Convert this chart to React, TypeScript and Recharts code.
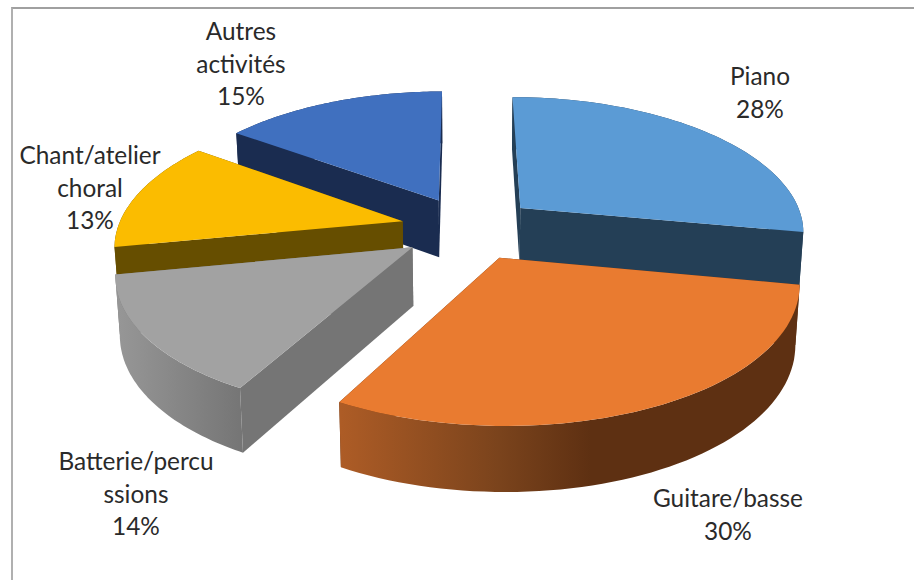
import React from "react";
import { PieChart, Pie } from "recharts";

const categories = ["Piano", "Autres activités", "Chant/atelier choral", "Batterie/percussions", "Guitare/basse"];
const shares = [28, 15, 13, 14, 30];
const labelLines = [["Piano"], ["Autres", "activités"], ["Chant/atelier", "choral"], ["Batterie/percu", "ssions"], ["Guitare/basse"]];
const topColours = ["#5b9bd5", "#4070bf", "#fbbc00", "#a2a2a2", "#e97b30"];
const wallColours = ["#243f56", "#1a2c50", "#664e00", "#757575", "#5e3012"];
const sideStops: [number, string][][] = [
  [[0, "#243f56"], [1, "#243f56"]],
  [[0, "#1a2c50"], [1, "#1a2c50"]],
  [[0, "#664e00"], [1, "#664e00"]],
  [[0, "#969696"], [1, "#757575"]],
  [[0, "#ad5c26"], [0.35, "#7a431c"], [0.55, "#5e3012"], [1, "#5e3012"]],
];
// centre x, first baseline y for each label block
const labelAnchors = [[760, 85], [241, 40], [90, 164], [136, 470], [728, 507]];

const chartData = categories.map((name, i) => ({ name, value: shares[i], fill: topColours[i] }));

const CX = 469;
const CY = 228;
const TILT = 133 / 285;
const PERSP_X = 0.16;
const PERSP_Y = 0.15;
const PERSP_D = 0.1;
const EXPLODE = 0.24;
const DEPTH = 58;
const LINE = 32.5;

function project(cx: number, cy: number, R: number, u: number, v: number) {
  return {
    x: cx + (R * u) / (1 + PERSP_X * v),
    y: cy - (R * TILT * v) / (1 + PERSP_Y * v),
    d: DEPTH / (1 + PERSP_D * v),
  };
}
function drop(cx: number, p: { x: number; y: number; d: number }) {
  return { x: cx + (p.x - cx) * 0.987, y: p.y + p.d, d: p.d };
}
const toPath = (pts: { x: number; y: number }[]) =>
  "M" + pts.map((p) => `${p.x.toFixed(1)},${p.y.toFixed(1)}`).join("L") + "Z";

function Slice(props: any) {
  const { cx, cy, outerRadius: R, startAngle, endAngle, name, fill } = props;
  const i = categories.indexOf(name);
  const t0 = ((90 - startAngle) * Math.PI) / 180;
  const t1 = ((90 - endAngle) * Math.PI) / 180;
  const mid = (t0 + t1) / 2;
  const ou = EXPLODE * Math.sin(mid);
  const ov = EXPLODE * Math.cos(mid);
  const n = 60;
  const arc = [];
  for (let k = 0; k <= n; k++) {
    const t = t0 + ((t1 - t0) * k) / n;
    arc.push(project(cx, cy, R, ou + Math.sin(t), ov + Math.cos(t)));
  }
  const apex = project(cx, cy, R, ou, ov);
  const arcLow = arc.map((p) => drop(cx, p));
  const apexLow = drop(cx, apex);
  const xs = arcLow.map((p) => p.x);
  const minX = Math.min(...xs);
  const maxX = Math.max(...xs);
  const id = `side-${i}`;
  const a = arc[0];
  const b = arc[n];
  const aL = arcLow[0];
  const bL = arcLow[n];
  return (
    <g>
      <defs>
        <linearGradient id={id} gradientUnits="userSpaceOnUse" x1={minX} x2={maxX} y1={0} y2={0}>
          {sideStops[i].map(([o, c]) => (
            <stop key={o} offset={o} stopColor={c} />
          ))}
        </linearGradient>
      </defs>
      <path d={toPath([apex, a, aL, apexLow])} fill={wallColours[i]} />
      <path d={toPath([apex, b, bL, apexLow])} fill={wallColours[i]} />
      <path d={toPath([...arc, ...arcLow.slice().reverse()])} fill={`url(#${id})`} />
      <path d={toPath([apex, ...arc])} fill={fill} />
    </g>
  );
}

function SliceLabel(props: any) {
  const i = categories.indexOf(props.name);
  const [x, y] = labelAnchors[i];
  const lines = [...labelLines[i], `${shares[i]}%`];
  return (
    <text textAnchor="middle" fontFamily="Lato, 'Open Sans', sans-serif" fontSize={24.4} fill="#2a2a2a">
      {lines.map((l, k) => (
        <tspan key={k} x={x} y={y + k * LINE}>
          {l}
        </tspan>
      ))}
    </text>
  );
}

export default function App() {
  return (
    <div style={{ position: "absolute", left: 0, top: 0, width: 914, height: 580, background: "#fff", overflow: "hidden" }}>
      <div
        style={{
          position: "absolute",
          left: 11,
          top: 7,
          width: 903,
          height: 573,
          borderTop: "2px solid #a0a0a0",
          borderLeft: "2px solid #b0b0b0",
          boxSizing: "border-box",
        }}
      />
      <div style={{ position: "absolute", left: 0, top: 0 }}>
        <PieChart width={914} height={580} margin={{ top: 0, right: 0, bottom: 0, left: 0 }}>
          <Pie
            data={chartData}
            dataKey="value"
            nameKey="name"
            cx={CX}
            cy={CY}
            innerRadius={0}
            outerRadius={285}
            startAngle={-10.6}
            endAngle={349.4}
            stroke="none"
            isAnimationActive={false}
            shape={Slice}
            label={SliceLabel}
            labelLine={false}
          />
        </PieChart>
      </div>
    </div>
  );
}
